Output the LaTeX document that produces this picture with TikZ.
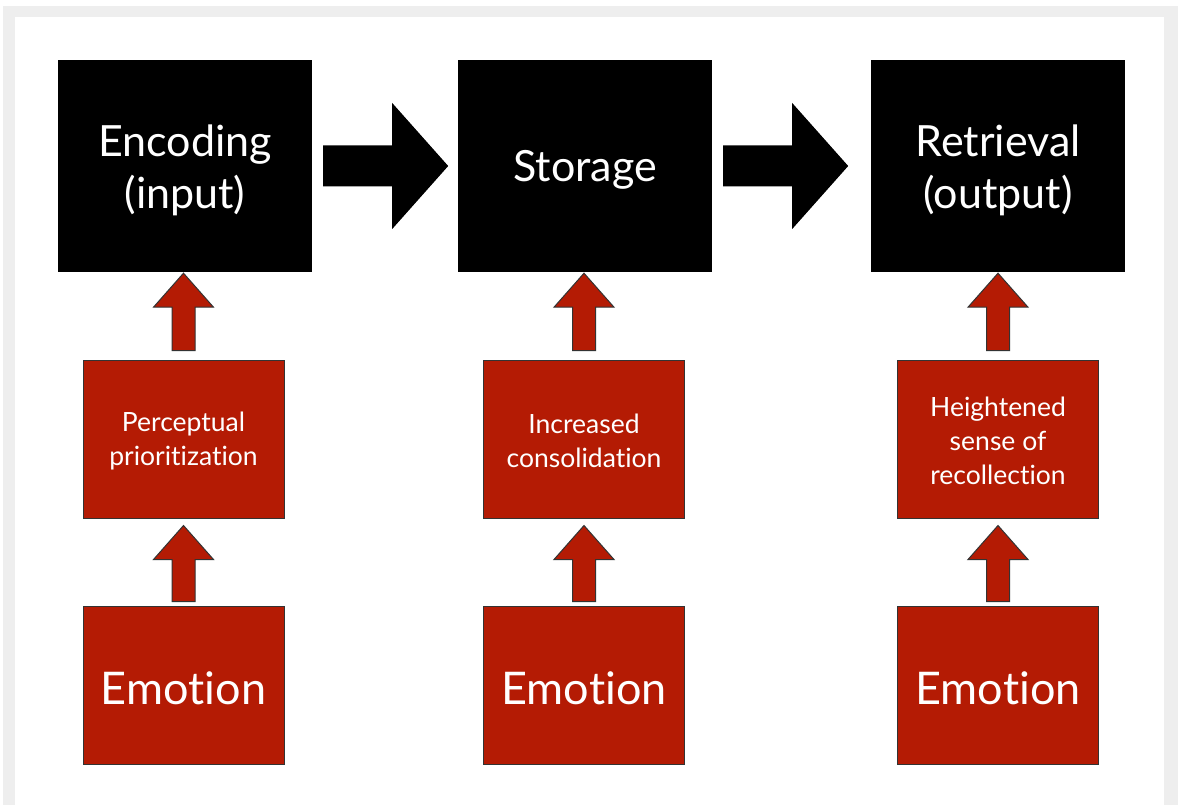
\documentclass[tikz,border=0pt]{standalone}
\usepackage{fontspec}
\setmainfont{Lato}[Ligatures=CommonOff]
\usetikzlibrary{calc}
\definecolor{redfill}{RGB}{180,27,4}
\definecolor{framegray}{RGB}{238,238,238}
\newcommand\redarr[4]{%
  \draw[redarrow] ($(#2.north)+(-11.5,-#4)$) -- ($(#1.south -| #2.north)+(-11.5,#3+34)$)
    -- ++(-18.5,0) -- ($(#1.south -| #2.north)+(0,#3)$) -- ++(30,34) -- ++(-18.5,0)
    -- ($(#2.north)+(11.5,-#4)$) -- cycle;}
\newcommand\blackarr[2]{%
  \draw[blackarrow] ($(#1.east)+(11,-20.5)$) -- ++(69,0) -- ++(0,-42.5)
    -- ($(#1.east)+(136,0)$) -- ++(-56,63) -- ++(0,-42.5) -- ++(-69,0) -- cycle;}
\begin{document}
\begin{tikzpicture}[x=1pt,y=-1pt,
  blackbox/.style={fill=black, minimum width=254pt, minimum height=212pt, inner sep=0pt},
  bigtext/.style={text=white, align=center, font=\fontsize{43}{52}\selectfont},
  redbox/.style={fill=redfill, draw=black!80, line width=1pt,
    minimum width=201pt, minimum height=158pt, inner sep=0pt},
  smalltext/.style={text=white, align=center, font=\fontsize{26.5}{34}\selectfont},
  emotext/.style={text=white, font=\fontsize{45}{50}\selectfont},
  redarrow/.style={fill=redfill, draw=black!80, line width=1pt, line join=miter},
  blackarrow/.style={fill=black, draw=none}]
\useasboundingbox (0,0) rectangle (1178,805);
\fill[white] (0,0) rectangle (1178,805);
\fill[framegray] (3,6) rectangle (1178,805);
\fill[white] (15,17) rectangle (1164,805);

\node[blackbox] (enc) at (185,166) {};
\node[bigtext] (enct) at (185,170) {Encoding\\(input)};
\node[blackbox] (sto) at (585,166) {};
\node[bigtext] (stot) at (585,170) {Storage};
\node[blackbox] (ret) at (998,166) {};
\node[bigtext] (rett) at (998,170) {Retrieval\\(output)};

\node[redbox] (per) at (183.5,439) {};
\node[smalltext] (pert) at (183.5,441) {Perceptual\\prioritization};
\node[redbox] (con) at (584,439) {};
\node[smalltext] (cont) at (584,441) {Increased\\consolidation};
\node[redbox] (rec) at (998,439) {};
\node[smalltext] (rect) at (998,441) {Heightened\\sense of\\recollection};

\node[redbox] (em1) at (183.5,685) {};
\node[emotext] (em1t) at (183.5,688) {Emotion};
\node[redbox] (em2) at (584,685) {};
\node[emotext] (em2t) at (584,688) {Emotion};
\node[redbox] (em3) at (998,685) {};
\node[emotext] (em3t) at (998,688) {Emotion};

\blackarr{enc}{sto}
\blackarr{sto}{ret}

\redarr{enc}{per}{1}{9}
\redarr{sto}{con}{1}{9}
\redarr{ret}{rec}{1}{9}
\redarr{per}{em1}{7}{4}
\redarr{con}{em2}{7}{4}
\redarr{rec}{em3}{7}{4}
\end{tikzpicture}
\end{document}
